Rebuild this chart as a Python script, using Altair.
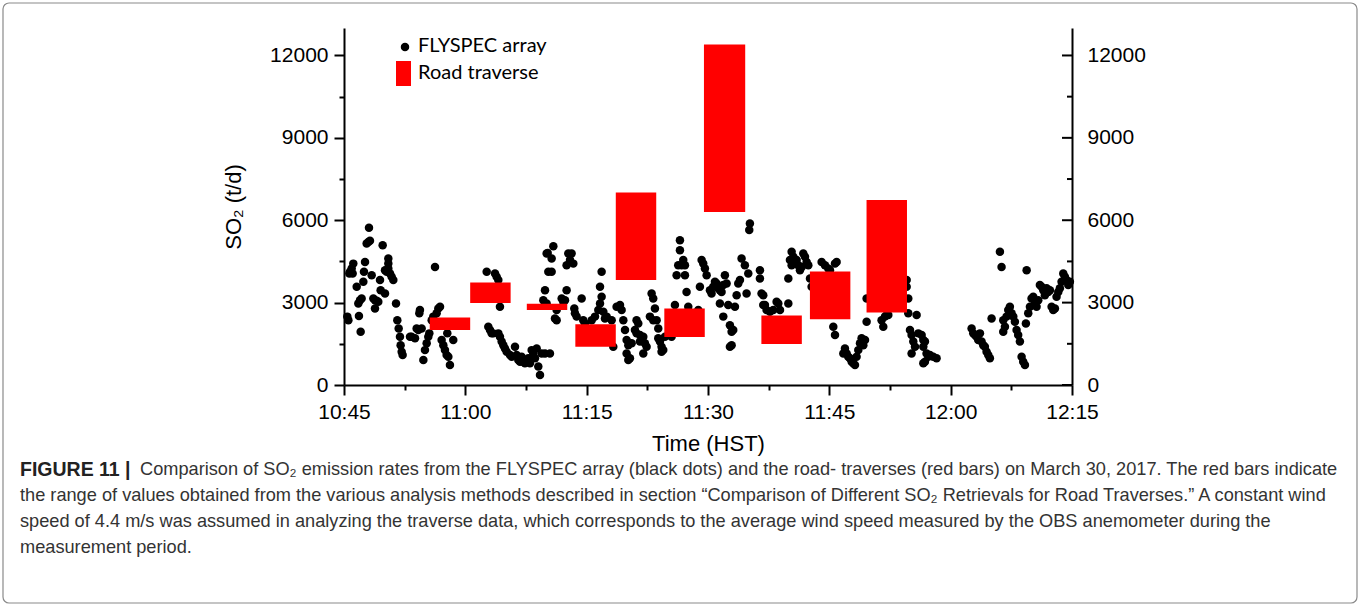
import altair as alt
import pandas as pd

# FLYSPEC array: time in minutes after 10:45 HST, SO2 emission rate (t/d)
fly_min = [
    0.41, 0.54, 0.74, 0.95, 1.15, 1.07, 0.66, 1.57, 1.77, 1.98, 2.18, 1.85, 2.06, 2.39, 2.47, 2.60, 2.80, 3.01, 3.21, 3.09,
    3.42, 3.63, 3.83, 4.04, 3.83, 4.24, 4.45, 4.53, 4.78, 5.07, 5.27, 5.48, 5.69, 5.48, 5.48, 5.07, 5.89, 6.10, 6.43, 6.59,
    6.76, 6.92, 7.00, 7.13, 7.25, 8.36, 8.78, 9.19, 9.60, 9.39, 9.31, 9.81, 10.01, 10.22, 10.42, 10.55, 11.25, 10.84, 11.04, 11.45,
    11.66, 11.87, 12.07, 12.28, 12.48, 12.69, 12.90, 13.10, 13.51, 12.77, 8.98, 8.16,
    17.64, 18.67, 18.87, 19.08, 19.28, 17.84, 18.05, 18.25, 18.46, 19.08, 19.28, 19.49, 19.70, 19.90, 20.11, 20.52, 20.73, 21.14, 21.34, 21.55,
    21.76, 21.96, 22.17, 22.37, 22.79, 22.99, 23.20, 23.40, 23.61, 23.82, 24.02, 24.23, 24.43, 24.85, 25.46, 25.05, 25.88, 25.18, 25.67, 25.26,
    25.67, 27.73, 28.14, 27.94, 27.52, 28.35, 24.85, 24.64, 25.05, 26.29, 26.08, 26.29, 27.52, 26.91, 27.11, 27.32, 28.47, 28.55, 28.76, 29.38,
    29.58, 29.79, 30.62, 31.03, 31.44, 31.65, 31.85, 31.65, 31.85, 32.06, 32.26, 32.47, 33.09, 33.70, 34.12, 34.32, 34.53, 34.74, 34.94, 35.15,
    35.56, 34.94, 35.15, 35.35, 33.29,
    36.17, 36.38, 35.97, 36.17, 36.59, 37.00, 37.20, 37.41, 37.00, 36.59, 38.03, 38.23, 38.44, 38.65, 38.23, 37.82, 38.85, 38.85, 39.06, 39.26,
    39.47, 39.26, 39.68, 40.09, 40.50, 41.53, 41.53, 41.32, 41.94, 42.15, 41.74, 41.12, 42.15, 42.35, 40.91, 42.56, 43.80, 44.21, 44.41, 44.62,
    44.83, 44.00, 45.24, 45.44, 45.65, 45.86, 46.06, 46.27, 46.47, 46.68, 46.89, 47.09, 47.30, 46.47, 46.89, 47.50, 47.71, 47.92, 48.12, 47.71,
    47.92, 48.33, 48.54, 48.95, 48.74, 49.15, 49.56, 49.98, 49.77, 50.18, 50.10, 51.42, 51.42, 51.62, 51.83, 51.83, 52.04, 52.24, 52.66, 53.07,
    53.48, 53.69,
    53.90, 54.93, 54.93, 55.34, 55.55, 55.13, 55.34, 55.96, 56.16, 56.37, 56.58, 56.78, 56.99, 57.19, 57.40, 59.05, 59.46, 59.87, 60.08, 60.90,
    60.70, 57.61, 57.81, 60.49, 60.70, 61.93, 62.14, 62.34, 62.55, 62.76, 62.96, 63.17, 63.37, 63.58, 63.79, 63.99, 64.20, 64.41, 61.73, 64.61,
    64.61, 66.46, 66.67, 66.88, 67.08, 67.29, 69.56, 69.56, 69.76, 69.76, 70.79, 69.97, 70.17, 70.38, 70.59, 70.17, 71.00, 71.41, 71.62, 71.62,
    71.62,
    71.82, 72.02, 72.23, 72.44, 72.85, 73.26, 71.82, 77.59, 77.79, 78.00, 78.20, 78.41, 78.62, 78.82, 79.03, 79.23, 79.44, 79.65, 79.85, 80.06,
    81.09, 81.29, 81.50, 81.71, 81.91, 82.12, 82.32, 82.53, 82.74, 82.94, 81.50, 83.15, 83.35, 83.56, 83.77, 83.97, 84.18, 84.39, 84.30, 84.59,
    84.80, 85.00, 85.21, 85.42, 85.62, 85.83, 86.03, 86.24, 86.45, 86.65, 86.86, 87.06, 87.27, 87.48, 87.68, 87.89, 88.09, 88.30, 88.50, 88.71,
    88.92, 89.12, 89.33, 89.54, 89.74,
]
fly_so2 = [
    2490, 2360, 4120, 4240, 4420, 4060, 4060, 3580, 2970, 3090, 3150, 2510, 1940, 3760, 4120, 4480, 5150, 5210, 5250, 5730,
    4000, 3150, 3090, 3070, 2790, 3030, 3820, 3450, 5090, 4180, 4120, 4240, 4060, 4610, 4420, 3330, 3940, 3820, 2970, 2360,
    2060, 1760, 1450, 1210, 1090, 1760, 1700, 2000, 2060, 2730, 2610, 910, 1270, 1520, 1760, 1880, 4300, 2360, 2490, 2610,
    2790, 2850, 1640, 1450, 1270, 1090, 1030, 730, 1640, 1880, 2060, 1760,
    4120, 4060, 3940, 3820, 2850, 2120, 2000, 1880, 1880, 1880, 1760, 1580, 1450, 1330, 1210, 1090, 1030, 1390, 1090, 910,
    850, 1030, 850, 790, 970, 790, 1270, 1150, 970, 1330, 670, 360, 1150, 1150, 1150, 4790, 5050, 4810, 4610, 4120,
    4120, 4790, 4790, 4550, 4360, 4420, 3450, 3090, 2970, 2730, 2420, 2360, 3450, 3150, 3030, 3090, 2790, 2610, 2490, 3150,
    2360, 2240, 2360, 2490, 2730, 2970, 3210, 3580, 4120, 2670, 2420, 2490, 2360, 2850, 2910, 2730, 2360, 2000, 1640, 1450,
    1520, 1150, 910, 970, 1390,
    2360, 2240, 2000, 1880, 1820, 1760, 1520, 1390, 1150, 1580, 3330, 3150, 2790, 2360, 2360, 2490, 2060, 1700, 1580, 1390,
    1270, 1210, 1760, 1820, 1760, 5270, 4910, 4360, 4550, 4360, 4360, 4000, 4000, 3390, 2910, 2850, 2730, 4550, 4420, 4240,
    4000, 3580, 3450, 3330, 3580, 3760, 3700, 3520, 3450, 3390, 3640, 4000, 3700, 2970, 2490, 2910, 2180, 1940, 2000, 1390,
    1450, 2850, 3270, 3820, 3700, 4610, 4360, 4060, 3330, 5880, 5640, 4180, 3880, 3330, 3270, 2910, 2910, 2730, 2670, 2730,
    3030, 2970,
    2730, 2970, 3880, 4850, 4670, 4550, 4360, 4550, 4360, 4180, 4300, 4790, 4670, 4480, 4360, 4480, 4360, 4240, 4180, 4480,
    4420, 3880, 3580, 2120, 1820, 1330, 1150, 1030, 970, 850, 790, 730, 1030, 1270, 1520, 1700, 1450, 1640, 1150, 3150,
    2300, 2360, 2120, 2490, 2550, 2550, 3820, 3580, 3150, 2610, 2550, 2000, 1820, 1580, 1390, 1150, 1880, 1820, 1640, 1390,
    790,
    1580, 1150, 1030, 1090, 1030, 970, 850, 2060, 1880, 1820, 1760, 1640, 1880, 1580, 1450, 1390, 1210, 1090, 970, 2420,
    4850, 4300, 2360, 2120, 2490, 2730, 2850, 2610, 2490, 2300, 1940, 2000, 1820, 1580, 1030, 850, 730, 4180, 2240, 2610,
    2850, 3150, 3210, 2970, 2850, 3090, 3640, 3580, 3450, 3270, 3520, 3390, 3450, 2850, 2730, 2790, 3210, 3390, 3520, 3760,
    4060, 3940, 3820, 3640, 3760,
]

# Road traverses: start/end (minutes after 10:45) and range of SO2 values (t/d)
bar_start = [10.6, 15.6, 22.6, 28.6, 33.6, 39.6, 44.5, 51.6, 57.6, 64.6]
bar_end = [15.6, 20.6, 27.6, 33.6, 38.6, 44.6, 49.6, 56.6, 62.6, 69.6]
bar_low = [2000, 2990, 2730, 1390, 3820, 1750, 6300, 1490, 2390, 2640]
bar_high = [2460, 3730, 2960, 2210, 7010, 2790, 12400, 2530, 4130, 6740]

x_ticks = [0, 7.5, 15, 22.5, 30, 37.5, 45, 52.5, 60, 67.5, 75, 82.5, 90]
y_ticks = [0, 1500, 3000, 4500, 6000, 7500, 9000, 10500, 12000]
y_major = [0, 3000, 6000, 9000, 12000]
y_minor = [1500, 4500, 7500, 10500]

caption_lines = [
    "Comparison of SO\u2082 emission rates from the FLYSPEC array (black dots) and the road- traverses (red bars) on March 30, 2017. The red bars indicate",
    "the range of values obtained from the various analysis methods described in section \u201cComparison of Different SO\u2082 Retrievals for Road Traverses.\u201d A constant wind",
    "speed of 4.4 m/s was assumed in analyzing the traverse data, which corresponds to the average wind speed measured by the OBS anemometer during the",
    "measurement period.",
]

W, H = 728, 357
LEFT, TOP = 344, 28
FONT = "Liberation Sans"

pts = pd.DataFrame({"t": fly_min, "v": fly_so2})
bars = pd.DataFrame({"t0": bar_start, "t1": bar_end, "lo": bar_low, "hi": bar_high})
maj = pd.DataFrame({"tv": y_major})
mnr = pd.DataFrame({"tv": y_minor})

xsc = alt.Scale(domain=[0, 90], nice=False, zero=False)
ysc = alt.Scale(domain=[0, 13000], nice=False, zero=True)

label_expr = ("datum.value % 15 === 0 ? ((10 + floor((45 + datum.value) / 60)) + ':' + "
              "(((45 + datum.value) % 60) < 10 ? '0' : '') + ((45 + datum.value) % 60)) : ''")

x_axis = alt.Axis(
    values=x_ticks, labelExpr=label_expr, labelFlush=False, labelOverlap=False,
    tickSize={"condition": {"test": "datum.value % 15 === 0", "value": 10}, "value": 5},
    labelPadding=6, labelFontSize=21, titleFontSize=22,
    titleX=364, titleY=58, titleBaseline="middle", titleAlign="center",
)

left_axis = alt.Axis(
    orient="left", values=y_ticks, format="d",
    labelExpr="datum.value % 3000 === 0 ? datum.label : ''", labelOverlap=False,
    tickSize={"condition": {"test": "datum.value % 3000 === 0", "value": 10}, "value": 5},
    labelPadding=6, labelFontSize=21, title="SO\u2082 (t/d)", titleFontSize=22,
    titleX=-111, titleY=H / 2, titleAngle=270, titleAlign="center", titleBaseline="middle",
)

right_axis = alt.Axis(
    orient="right", values=y_major, format="d", ticks=False, tickSize=0,
    labelPadding=15, labelFontSize=21, labelOverlap=False, title=None,
)


def X(field):
    return alt.X(field, type="quantitative", scale=xsc, axis=x_axis, title="Time (HST)")


one = alt.Data(values=[{}])

border = alt.Chart(one).mark_rect(
    fill="white", fillOpacity=0, stroke="#8a8a8a", strokeWidth=1.2, cornerRadius=6
).encode(x=alt.value(3 - LEFT), x2=alt.value(1357 - LEFT), y=alt.value(3 - TOP), y2=alt.value(603 - TOP))

points = alt.Chart(pts).mark_circle(size=72, color="black", opacity=1).encode(
    x=X("t"), y=alt.Y("v:Q", scale=ysc, axis=None)
)

rects = alt.Chart(bars).mark_rect(color="#ff0000").encode(
    x=X("t0"), x2="t1", y=alt.Y("lo:Q", scale=ysc, axis=left_axis), y2="hi"
)

rticks_major = alt.Chart(maj).mark_rule(color="black", strokeWidth=2).encode(
    y=alt.Y("tv:Q", scale=ysc, axis=right_axis), x=alt.value(W - 10), x2=alt.value(W)
)
rticks_minor = alt.Chart(mnr).mark_rule(color="black", strokeWidth=2).encode(
    y=alt.Y("tv:Q", scale=ysc, axis=None), x=alt.value(W - 5), x2=alt.value(W)
)

leg_dot = alt.Chart(one).mark_circle(size=72, color="black", opacity=1).encode(
    x=alt.value(405 - LEFT), y=alt.value(47 - TOP)
)
leg_rect = alt.Chart(one).mark_rect(color="#ff0000").encode(
    x=alt.value(396 - LEFT), x2=alt.value(411 - LEFT), y=alt.value(61 - TOP), y2=alt.value(86 - TOP)
)
leg_t1 = alt.Chart(one).mark_text(align="left", baseline="middle", font="Lato", fontSize=20, color="black").encode(
    x=alt.value(418 - LEFT), y=alt.value(46 - TOP), text=alt.value("FLYSPEC array")
)
leg_t2 = alt.Chart(one).mark_text(align="left", baseline="middle", font="Lato", fontSize=20, color="black").encode(
    x=alt.value(418 - LEFT), y=alt.value(73 - TOP), text=alt.value("Road traverse")
)

cap_y = [470, 496, 522, 548]
cap_head = alt.Chart(one).mark_text(align="left", baseline="middle", font=FONT, fontSize=19.5,
                                    fontWeight="bold", color="#222222").encode(
    x=alt.value(20 - LEFT), y=alt.value(cap_y[0] - TOP), text=alt.value("FIGURE 11 |")
)
cap_layers = []
cap_x = [140, 20, 20, 20]
for cx, cy, line in zip(cap_x, cap_y, caption_lines):
    cap_layers.append(
        alt.Chart(one).mark_text(align="left", baseline="middle", font=FONT, fontSize=18.2, color="#333333").encode(
            x=alt.value(cx - LEFT), y=alt.value(cy - TOP), text=alt.value(line)
        )
    )

chart = alt.layer(
    border, points, rects, rticks_major, rticks_minor, leg_dot, leg_rect, leg_t1, leg_t2, cap_head, *cap_layers
).resolve_scale(y="independent").resolve_axis(y="independent").properties(
    width=W, height=H,
    autosize=alt.AutoSizeParams(type="none"),
    padding={"left": LEFT, "top": TOP, "right": 1360 - LEFT - W, "bottom": 606 - TOP - H},
    background="white",
).configure_view(stroke=None).configure_axis(
    domainColor="black", domainWidth=2, tickColor="black", tickWidth=2,
    labelColor="black", titleColor="black", labelFont=FONT, titleFont=FONT,
    titleFontWeight="normal", grid=False,
)

chart.save("out.html", embed_options={"renderer": "svg", "actions": False})
